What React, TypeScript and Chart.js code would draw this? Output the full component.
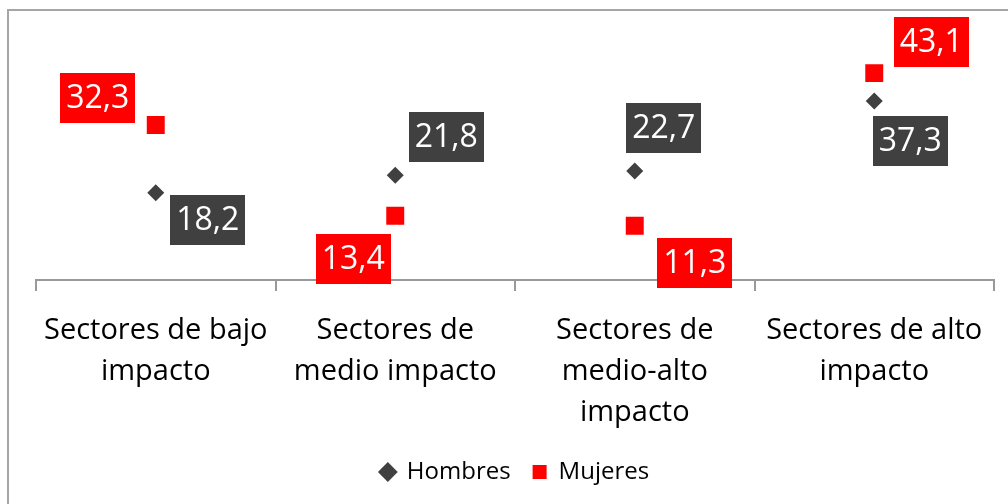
import React, { useEffect, useRef } from "react";
import { Chart, registerables } from "chart.js";

Chart.register(...registerables);

const categories: string[][] = [
  ["Sectores de bajo", "impacto"],
  ["Sectores de", "medio impacto"],
  ["Sectores de", "medio-alto", "impacto"],
  ["Sectores de alto", "impacto"],
];
const hombres: number[] = [18.2, 21.8, 22.7, 37.3];
const mujeres: number[] = [32.3, 13.4, 11.3, 43.1];

// label box center offsets relative to the point (style only)
const hombresLabelOffset: [number, number][] = [
  [52, 27],
  [51, -38],
  [29, -43],
  [36, 40],
];
const mujeresLabelOffset: [number, number][] = [
  [-58, -27],
  [-42, 43],
  [60, 37],
  [57, -31],
];

const FONT = "'Open Sans', 'Noto Sans', sans-serif";

const labelPlugin = {
  id: "boxLabels",
  afterDraw(chart: any) {
    const ctx = chart.ctx as CanvasRenderingContext2D;
    const offsets = [hombresLabelOffset, mujeresLabelOffset];
    chart.data.datasets.forEach((ds: any, di: number) => {
      const meta = chart.getDatasetMeta(di);
      meta.data.forEach((pt: any, i: number) => {
        const v = ds.data[i] as number;
        const txt = v.toFixed(1).replace(".", ",");
        ctx.save();
        ctx.font = `32px ${FONT}`;
        const w = ctx.measureText(txt).width + 12;
        const h = 50;
        const [dx, dy] = offsets[di][i];
        const cx = pt.x + dx;
        const cy = pt.y + dy;
        ctx.fillStyle = ds.backgroundColor;
        ctx.fillRect(Math.round(cx - w / 2), Math.round(cy - h / 2), Math.round(w), h);
        ctx.fillStyle = "#ffffff";
        ctx.textAlign = "center";
        ctx.textBaseline = "middle";
        ctx.fillText(txt, cx, cy + 1);
        ctx.restore();
      });
    });
  },
};

export default function App() {
  const ref = useRef<HTMLCanvasElement | null>(null);
  useEffect(() => {
    if (!ref.current) return;
    const chart = new Chart(ref.current, {
      type: "line",
      data: {
        labels: categories as any,
        datasets: [
          {
            label: "Hombres",
            data: hombres,
            showLine: false,
            pointStyle: "rectRot",
            pointRadius: 8.5,
            pointHoverRadius: 8.5,
            backgroundColor: "#404040",
            borderColor: "#404040",
            borderWidth: 0,
          },
          {
            label: "Mujeres",
            data: mujeres,
            showLine: false,
            pointStyle: "rect",
            pointRadius: 12.7,
            pointHoverRadius: 12.7,
            backgroundColor: "#ff0000",
            borderColor: "#ff0000",
            borderWidth: 0,
          },
        ],
      },
      options: {
        animation: false,
        responsive: false,
        maintainAspectRatio: false,
        events: [],
        layout: { padding: { left: 36, right: 14, top: 40, bottom: 10 } },
        plugins: {
          tooltip: { enabled: false },
          legend: {
            position: "bottom",
            labels: {
              usePointStyle: true,
              boxHeight: 14,
              boxWidth: 14,
              padding: 22,
              color: "#000000",
              font: { family: FONT, size: 24 },
            },
          },
        },
        scales: {
          y: { display: false, min: 0, max: 50 },
          x: {
            offset: true,
            afterFit: (scale: any) => {
              scale.height = 158;
            },
            border: { display: true, color: "#999999", width: 2 },
            grid: {
              offset: true,
              drawOnChartArea: false,
              drawTicks: true,
              tickLength: 11,
              color: "#999999",
              lineWidth: 2,
            },
            ticks: {
              color: "#000000",
              maxRotation: 0,
              autoSkip: false,
              padding: 19,
              font: { family: FONT, size: 29, lineHeight: 1.42 },
            },
          },
        },
      },
      plugins: [labelPlugin],
    });
    return () => chart.destroy();
  }, []);
  return (
    <div
      style={{
        position: "absolute",
        left: 0,
        top: 0,
        width: 1008,
        height: 504,
        overflow: "hidden",
        background: "#ffffff",
      }}
    >
      <canvas ref={ref} width={1008} height={504} style={{ position: "absolute", left: 0, top: 0 }} />
      <div
        style={{
          position: "absolute",
          left: 7,
          top: 9,
          width: 1200,
          height: 800,
          border: "2px solid #a6a6a6",
          pointerEvents: "none",
        }}
      />
    </div>
  );
}
